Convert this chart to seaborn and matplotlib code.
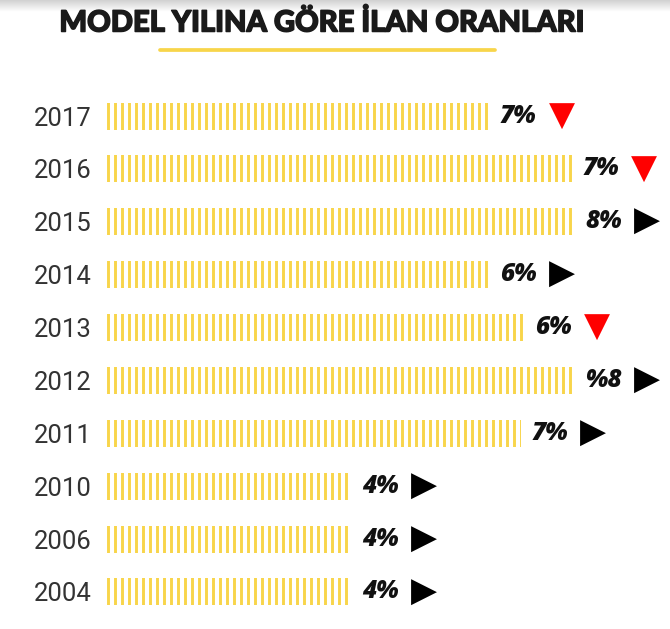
import matplotlib
matplotlib.use('Agg')
import matplotlib.pyplot as plt
import matplotlib.patheffects as pe
from matplotlib.lines import Line2D
import numpy as np
import pandas as pd
import seaborn as sns

# 数据
years = ['2017', '2016', '2015', '2014', '2013', '2012', '2011', '2010', '2006', '2004']
bar_length = [6.34, 7.69, 7.74, 6.34, 6.92, 7.74, 6.85, 4.07, 4.07, 4.07]
value_labels = ['7%', '7%', '8%', '6%', '6%', '%8', '7%', '4%', '4%', '4%']
trend = ['down', 'down', 'flat', 'flat', 'down', 'flat', 'flat', 'flat', 'flat', 'flat']

YELLOW = '#F8D54A'
DPI = 84

sns.set_theme(style='white')
plt.rcParams['font.family'] = ['Lato', 'DejaVu Sans']
plt.rcParams['hatch.linewidth'] = 2.5

df = pd.DataFrame({'year': years, 'length': bar_length})

fig = plt.figure(figsize=(670 / DPI, 629 / DPI), dpi=DPI)
ax = fig.add_axes([103 / 670, 1 - 618.4 / 629, 1 - 103 / 670, 528.8 / 629])

sns.barplot(data=df, x='length', y='year', orient='h', width=0.51, ax=ax)
for p in ax.patches:
    p.set_facecolor('none')
    p.set_edgecolor(YELLOW)
    p.set_linewidth(0)
    p.set_hatch('||')

ax.set_xlim(0, 9.3)
ax.set_xlabel('')
ax.set_ylabel('')
ax.set_xticks([])
sns.despine(ax=ax, left=True, bottom=True)
ax.tick_params(axis='y', length=0, pad=10)
for lbl in ax.get_yticklabels():
    lbl.set_fontsize(22)
    lbl.set_family(['Roboto', 'DejaVu Sans'])
    lbl.set_fontweight('normal')
    lbl.set_color('#333333')

# 数值标签和三角形
for i, (L, txt, t) in enumerate(zip(bar_length, value_labels, trend)):
    ax.annotate(txt, xy=(L, i), xytext=(9, 0), textcoords='offset points',
                ha='left', va='center', fontsize=21, fontweight='heavy',
                fontstyle='italic', color='#111111',
                family=['Open Sans', 'DejaVu Sans'])
    if t == 'down':
        sym, col = '\u25BC', '#FF0000'
    else:
        sym, col = '\u25B6', '#000000'
    ax.annotate(sym, xy=(L, i), xytext=(62, 0), textcoords='offset points',
                ha='center', va='center', fontsize=29, color=col,
                family='DejaVu Sans')

# 标题
fig.text(322 / 670, 1 - 23 / 629, 'MODEL YILINA GÖRE İLAN ORANLARI',
         ha='center', va='center', fontsize=25, fontweight='black', color='#1a1a1a',
         path_effects=[pe.withStroke(linewidth=1.3, foreground='#1a1a1a')])
fig.add_artist(Line2D([160 / 670, 495 / 670], [1 - 50 / 629, 1 - 50 / 629],
                      color=YELLOW, linewidth=3.2, transform=fig.transFigure))

# 顶部阴影
sh = fig.add_axes([0, 1 - 12 / 629, 1, 12 / 629])
grad = np.linspace(0.82, 1.0, 50).reshape(-1, 1)
sh.imshow(grad, aspect='auto', cmap='gray', vmin=0, vmax=1)
sh.axis('off')

fig.savefig('out.png', dpi=DPI)
